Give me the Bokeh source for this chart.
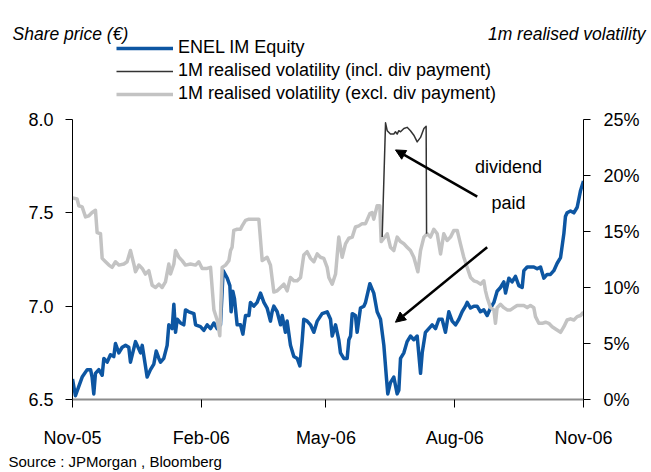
from bokeh.plotting import figure
from bokeh.layouts import column
from bokeh.models import (Range1d, LinearAxis, FixedTicker, Legend, LegendItem, Label,
                          Arrow, NormalHead, Title)
from bokeh.embed import file_html
from bokeh.resources import INLINE

FONT = "Liberation Sans"

# x values: days since 1 Nov 2005
x_tick_days = [0, 92, 181, 273, 365]
x_tick_labels = ["Nov-05", "Feb-06", "May-06", "Aug-06", "Nov-06"]
price_ticks = [6.5, 7.0, 7.5, 8.0]
price_tick_labels = ["6.5", "7.0", "7.5", "8.0"]
vol_ticks = [0, 5, 10, 15, 20, 25]
vol_tick_labels = ["0%", "5%", "10%", "15%", "20%", "25%"]

# ENEL IM Equity share price (EUR)
price_day = [0, 2.1, 4.5, 6.9, 10.5, 12.9, 14.0, 15.2, 16.4, 18.8,
             21.2, 22.4, 24.8, 27.1, 29.5, 30.7, 33.1, 35.5, 37.9, 40.2,
             41.4, 45.0, 48.6, 49.8, 52.1, 53.3, 55.7, 58.1, 59.8, 61.7,
             62.9, 65.2, 67.6, 68.8, 71.2, 72.4, 73.6, 74.8, 77.1, 79.5,
             80.7, 83.1, 86.7, 87.9, 91.4, 93.8, 96.2, 98.6, 101.0, 103.3,
             105.7, 107.6, 110.5, 112.4, 113.3, 114.5, 115.7, 117.6, 120.0, 121.7,
             123.6, 126.0, 127.1, 129.5, 131.9, 134.3, 136.7, 139.0, 141.4, 142.6,
             143.8, 146.2, 148.6, 149.8, 152.1, 153.3, 155.7, 158.1, 160.5, 162.4,
             164.0, 165.2, 167.6, 170.0, 172.4, 174.8, 178.3, 181.9, 184.3, 185.5,
             187.9, 190.2, 191.4, 193.8, 196.2, 197.4, 198.6, 199.8, 202.1, 203.3,
             205.7, 208.1, 209.3, 212.4, 215.2, 217.6, 220.0, 222.4, 224.3, 225.2,
             227.1, 229.5, 231.9, 233.1, 234.3, 236.7, 239.0, 241.4, 243.8, 246.2,
             248.6, 249.8, 252.1, 254.5, 256.9, 259.3, 261.7, 264.0, 266.4, 268.8,
             271.2, 273.6, 276.0, 278.3, 280.7, 281.9, 284.3, 286.7, 289.0, 291.4,
             293.8, 296.2, 298.6, 301.0, 303.3, 305.7, 308.1, 309.3, 311.7, 314.0,
             316.4, 318.8, 321.2, 322.4, 324.8, 327.1, 329.5, 331.9, 334.3, 336.7,
             339.0, 341.4, 343.8, 346.2, 348.6, 351.0, 352.1, 353.3, 355.7, 358.1,
             360.5, 362.9, 365.0]
price_val = [6.61, 6.52, 6.57, 6.62, 6.66, 6.66, 6.62, 6.53, 6.64, 6.66,
             6.63, 6.72, 6.70, 6.74, 6.73, 6.80, 6.75, 6.78, 6.79, 6.78,
             6.70, 6.81, 6.75, 6.79, 6.68, 6.62, 6.66, 6.69, 6.76, 6.72,
             6.70, 6.72, 6.79, 6.90, 6.88, 7.01, 6.86, 6.93, 6.91, 6.90,
             6.98, 6.97, 6.96, 6.90, 6.89, 6.87, 6.90, 6.88, 6.91, 6.88,
             6.90, 7.19, 7.15, 7.11, 6.97, 7.08, 7.04, 6.90, 6.90, 6.85,
             6.95, 6.95, 7.02, 7.00, 7.02, 7.07, 7.02, 6.99, 6.92, 6.97,
             7.00, 6.97, 6.90, 6.95, 6.86, 6.92, 6.79, 6.73, 6.72, 6.68,
             6.81, 6.93, 6.92, 6.90, 6.86, 6.92, 6.96, 6.97, 6.93, 6.84,
             6.90, 6.82, 6.75, 6.72, 6.72, 6.82, 6.84, 6.96, 6.95, 6.86,
             6.99, 7.00, 7.02, 7.12, 7.07, 6.97, 6.93, 6.79, 6.61, 6.53,
             6.59, 6.62, 6.53, 6.55, 6.72, 6.75, 6.81, 6.84, 6.82, 6.84,
             6.64, 6.75, 6.86, 6.88, 6.90, 6.88, 6.93, 6.93, 6.86, 6.97,
             6.92, 6.90, 6.93, 6.97, 7.00, 7.02, 6.99, 7.00, 7.00, 6.97,
             6.98, 6.95, 6.99, 7.02, 7.08, 7.10, 7.13, 7.07, 7.15, 7.13,
             7.16, 7.11, 7.10, 7.19, 7.21, 7.21, 7.21, 7.20, 7.21, 7.15,
             7.17, 7.17, 7.19, 7.23, 7.26, 7.39, 7.48, 7.50, 7.51, 7.50,
             7.53, 7.62, 7.67]

# 1M realised volatility excl. dividend payment (%)
vex_day = [0, 3.3, 4.5, 6.9, 9.3, 11.7, 14.0, 16.4, 17.6, 20.0,
           21.2, 23.6, 26.0, 28.3, 30.7, 33.1, 36.7, 39.0, 41.4, 43.8,
           45.0, 47.4, 49.8, 52.1, 54.5, 56.9, 59.3, 61.7, 64.0, 66.4,
           68.8, 70.0, 72.4, 73.6, 76.0, 78.3, 80.7, 84.3, 87.9, 90.2,
           92.6, 96.2, 98.6, 101.0, 103.3, 105.2, 106.9, 109.3, 111.7, 112.9,
           114.0, 115.2, 117.6, 120.0, 121.2, 123.6, 126.0, 129.5, 133.1, 135.5,
           139.0, 141.4, 143.8, 146.2, 148.6, 151.0, 153.3, 155.7, 158.1, 160.5,
           162.9, 165.2, 167.6, 170.0, 172.4, 174.8, 177.1, 179.5, 181.9, 183.1,
           185.5, 187.9, 190.2, 192.6, 195.0, 197.4, 199.8, 202.1, 204.5, 206.9,
           209.3, 212.4, 214.0, 215.2, 217.6, 219.5, 220.5, 222.4, 224.8, 227.1,
           229.5, 231.9, 234.3, 236.7, 239.0, 241.4, 243.8, 246.7, 248.6, 251.0,
           253.3, 255.7, 258.1, 260.5, 262.9, 265.2, 267.6, 270.0, 272.4, 274.8,
           277.1, 279.5, 281.9, 284.3, 286.7, 289.0, 291.4, 293.8, 295.0, 296.2,
           298.6, 301.0, 302.1, 303.3, 305.7, 308.1, 310.5, 312.9, 315.2, 317.6,
           320.0, 322.4, 324.8, 327.1, 329.5, 330.7, 333.1, 335.5, 337.9, 340.2,
           342.6, 345.0, 348.6, 351.0, 353.3, 355.7, 358.1, 360.5, 362.9, 365.0]
vex_val = [18.0, 17.9, 17.3, 17.2, 16.3, 16.4, 16.7, 16.9, 14.9, 14.8,
           12.6, 12.3, 12.0, 11.8, 12.3, 12.0, 12.1, 12.3, 13.3, 12.1,
           11.4, 12.0, 11.7, 11.2, 11.5, 10.2, 10.0, 10.3, 10.0, 10.5,
           12.1, 11.2, 12.1, 13.3, 12.7, 12.4, 12.0, 12.1, 12.0, 12.3,
           11.7, 11.7, 11.8, 8.0, 7.1, 5.7, 11.8, 12.0, 12.4, 13.3,
           13.6, 15.1, 15.2, 15.2, 15.5, 16.0, 16.1, 16.1, 16.1, 12.4,
           12.7, 12.0, 9.6, 9.7, 10.0, 10.3, 9.7, 10.9, 10.6, 10.6,
           10.9, 12.9, 13.2, 12.6, 12.3, 13.0, 12.7, 12.6, 11.8, 10.9,
           10.3, 11.2, 14.5, 12.7, 13.9, 14.4, 14.5, 15.4, 15.5, 15.7,
           15.7, 16.6, 16.7, 16.1, 17.3, 17.3, 14.1, 14.4, 14.8, 13.6,
           13.3, 14.5, 14.1, 13.9, 13.6, 13.3, 12.7, 11.4, 13.3, 14.5,
           14.8, 14.5, 15.2, 14.8, 13.0, 14.8, 14.2, 14.5, 15.1, 15.1,
           13.9, 12.7, 11.8, 10.9, 10.6, 10.5, 10.3, 10.6, 9.7, 9.1,
           8.2, 8.0, 6.8, 8.2, 8.5, 8.2, 8.0, 8.0, 8.2, 8.4,
           8.4, 8.4, 8.2, 8.4, 8.2, 7.4, 6.8, 6.8, 6.9, 6.8,
           6.5, 6.3, 6.0, 6.5, 7.1, 7.2, 7.1, 7.4, 7.5, 7.8]

# 1M realised volatility incl. dividend payment (%), where it differs
vin_day = [221.2, 223.6, 224.8, 227.1, 229.5, 230.7, 231.9, 233.1, 234.3,
           236.7, 239.0, 241.4, 243.8, 246.2, 248.6, 251.0, 252.6, 252.9]
vin_val = [14.5, 24.7, 24.0, 23.7, 23.7, 23.9, 23.7, 24.0, 23.9,
           24.2, 24.3, 24.0, 23.6, 23.0, 23.4, 24.2, 24.4, 14.8]

BLUE, BLACK, GREY = "#0d56a2", "#333333", "#c3c3c3"
HEAD_H = 105

# ---------- header (titles + legend) ----------
hdr = figure(width=651, height=HEAD_H, output_backend="svg", toolbar_location=None,
             x_range=Range1d(0, 651), y_range=Range1d(HEAD_H, 0),
             x_axis_location=None, y_axis_location=None,
             min_border=0, min_border_left=0, min_border_right=0,
             min_border_top=0, min_border_bottom=0, frame_align=False)
hdr.grid.visible = False
hdr.outline_line_color = None
hdr.background_fill_color = "white"
hdr.border_fill_color = "white"

# legend-key renderers (kept outside the visible header range)
lb = hdr.line([-20, -10], [-20, -20], line_color=BLUE, line_width=3.5)
lk = hdr.line([-20, -10], [-20, -20], line_color=BLACK, line_width=1.5)
lg = hdr.line([-20, -10], [-20, -20], line_color=GREY, line_width=3.5)

legend = Legend(items=[
    LegendItem(label="ENEL IM Equity", renderers=[lb]),
    LegendItem(label="1M realised volatility (incl. div payment)", renderers=[lk]),
    LegendItem(label="1M realised volatility (excl. div payment)", renderers=[lg]),
], location=(116, 1), orientation="vertical", padding=0, margin=0, spacing=2,
    glyph_width=57, glyph_height=20, label_height=20, label_standoff=5,
    label_text_font=FONT, label_text_font_size="18px", label_text_color="black",
    border_line_alpha=0, background_fill_alpha=0)
hdr.add_layout(legend)

for x, text, align in ((12, "Share price (€)", "left"), (645, "1m realised volatility", "right")):
    hdr.add_layout(Label(x=x, y=33, text=text, text_font=FONT, text_font_size="17.5px",
                         text_font_style="italic", text_align=align,
                         text_baseline="alphabetic", text_color="black"))

# ---------- main chart ----------
p = figure(width=651, height=472 - HEAD_H, output_backend="svg", toolbar_location=None,
           x_range=Range1d(0, 365), y_range=Range1d(6.5, 8.0),
           min_border_left=72, min_border_right=68, min_border_top=14,
           min_border_bottom=73, frame_align=False)
p.extra_y_ranges = {"vol": Range1d(0, 25)}
p.grid.visible = False
p.outline_line_color = None
p.background_fill_color = "white"
p.border_fill_color = "white"

xa = p.xaxis[0]
xa.ticker = FixedTicker(ticks=x_tick_days)
xa.major_label_overrides = dict(zip(x_tick_days, x_tick_labels))
xa.axis_line_color = "#8c8c8c"
xa.axis_line_width = 2
xa.major_tick_line_color = "black"
xa.major_tick_out = 8
xa.major_tick_in = 0
xa.minor_tick_out = 0
xa.minor_tick_in = 0
xa.major_label_standoff = 20
xa.major_label_text_font = FONT
xa.major_label_text_font_size = "18px"
xa.major_label_text_color = "black"

ya = p.yaxis[0]
ya.ticker = FixedTicker(ticks=price_ticks)
ya.major_label_overrides = dict(zip(price_ticks, price_tick_labels))

ra = LinearAxis(y_range_name="vol", ticker=FixedTicker(ticks=vol_ticks),
                major_label_overrides=dict(zip(vol_ticks, vol_tick_labels)))
p.add_layout(ra, "right")

for ax, standoff in ((ya, 12), (ra, 13)):
    ax.axis_line_color = "black"
    ax.axis_line_width = 1
    ax.major_tick_line_color = "black"
    ax.major_tick_out = 7
    ax.major_tick_in = 0
    ax.minor_tick_out = 0
    ax.minor_tick_in = 0
    ax.major_label_standoff = standoff
    ax.major_label_text_font = FONT
    ax.major_label_text_font_size = "18px"
    ax.major_label_text_color = "black"

p.line(price_day, price_val, line_color=BLUE, line_width=3.5, line_join="round")
p.line(vex_day, vex_val, y_range_name="vol", line_color=GREY, line_width=3.5,
       line_join="round")
p.line(vin_day, vin_val, y_range_name="vol", line_color=BLACK, line_width=1.5,
       line_join="round")

for text, y in (("dividend", 7.745), ("paid", 7.552)):
    p.add_layout(Label(x=311.4, y=y, text=text, text_font=FONT, text_font_size="18px",
                       text_align="center", text_baseline="alphabetic",
                       text_color="black"))

for xs, ys, xe, ye in ((289.1, 7.587, 230.7, 7.837), (296.2, 7.316, 230.7, 6.914)):
    p.add_layout(Arrow(end=NormalHead(size=10, fill_color="black", line_color="black"),
                       x_start=xs, y_start=ys, x_end=xe, y_end=ye,
                       line_color="black", line_width=2.5))

p.add_layout(Title(text="Source : JPMorgan , Bloomberg", align="left", offset=-64,
                   text_font=FONT, text_font_size="15px", text_font_style="normal",
                   text_color="black", standoff=0), "below")

layout = column(hdr, p, spacing=0)
open("out.html", "w").write(file_html(layout, INLINE))
